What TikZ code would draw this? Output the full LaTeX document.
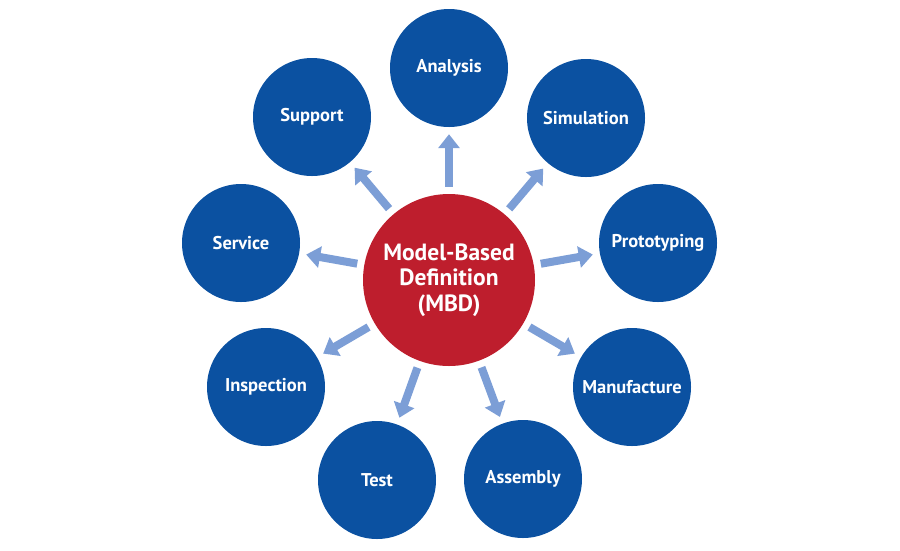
\documentclass[tikz,border=0pt]{standalone}
\usepackage{fontspec}
\setmainfont{PT Sans}
\usepackage{tikz}
\usetikzlibrary{arrows.meta,positioning}
\definecolor{mbdred}{RGB}{190,30,45}
\definecolor{bubbleblue}{RGB}{11,81,161}
\definecolor{arrowblue}{RGB}{124,158,214}
\tikzstyle{centre}=[circle, fill=mbdred, text=white, minimum size=172pt,
  inner sep=0pt, align=center, font=\bfseries\fontsize{23.5}{25.5}\selectfont]
\tikzstyle{bulle}=[circle, fill=bubbleblue, text=white, minimum size=118pt,
  inner sep=0pt, font=\bfseries\fontsize{18.5}{20}\selectfont]
\tikzstyle{fleche}=[draw, color=arrowblue, line width=8pt,
  -{Triangle[width=21pt,length=14pt]}, shorten <=7pt, shorten >=7pt]
\newcommand{\bulle}[2]{node (p#1)[bulle]{#2}}

\begin{document}
\begin{tikzpicture}[x=1pt,y=-1pt]
	\useasboundingbox (0,0) rectangle (900,550);

	% Draw diagram elements
	\node (mbd)[centre] at (449,280) {Model-Based\\Definition\\(MBD)};
	\path (mbd.center)+(0,-212) \bulle{1}{Analysis};
	\path (mbd.center)+(137,-162) \bulle{2}{Simulation};
	\path (mbd.center)+(209,-37) \bulle{3}{Prototyping};
	\path (mbd.center)+(183,107) \bulle{4}{Manufacture};
	\path (mbd.center)+(74,199) \bulle{5}{Assembly};
	\path (mbd.center)+(-72,200) \bulle{6}{Test};
	\path (mbd.center)+(-183,107) \bulle{7}{Inspection};
	\path (mbd.center)+(-208,-37) \bulle{8}{Service};
	\path (mbd.center)+(-137,-163) \bulle{9}{Support};

	% Draw arrows between elements
	\foreach \i in {1,...,9}
		\path [fleche] (mbd) -- (p\i);

\end{tikzpicture}
\end{document}
